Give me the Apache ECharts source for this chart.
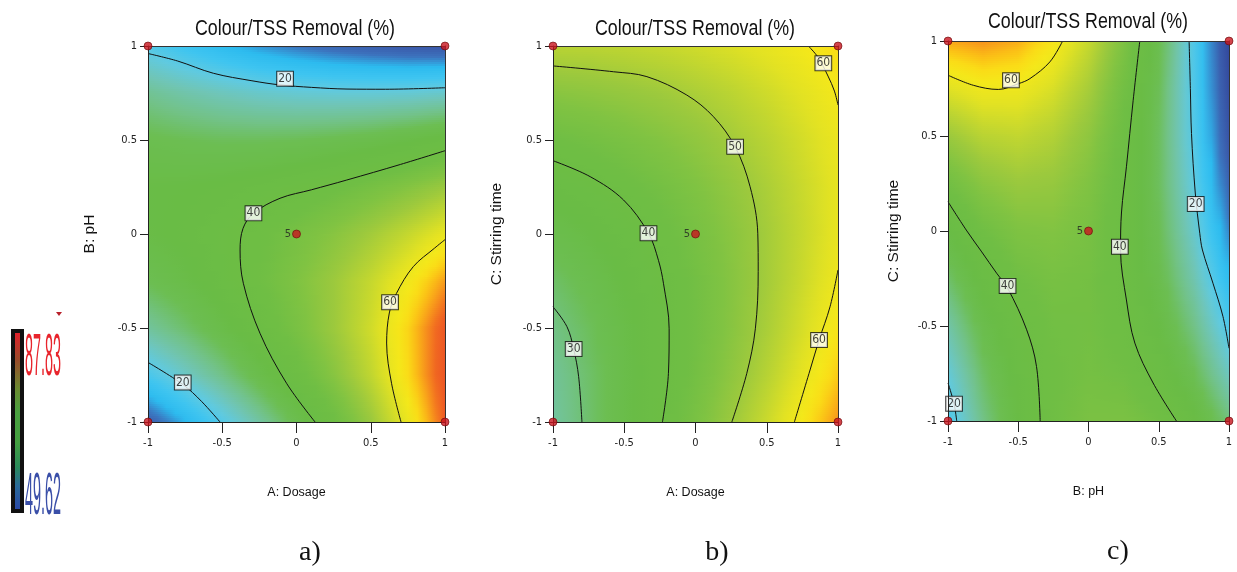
<!DOCTYPE html>
<html><head><meta charset="utf-8">
<script src="https://cdn.jsdelivr.net/npm/echarts@6/dist/echarts.min.js"></script>
<style>html,body{margin:0;padding:0;background:#fff}#c{width:1237px;height:572px}</style>
</head><body><div id="c"></div><script>
// ---------------- DATA ----------------
const gridLevels = [-1, -0.75, -0.5, -0.25, 0, 0.25, 0.5, 0.75, 1];
const tickValues = [-1, -0.5, 0, 0.5, 1];
const tickLabels = ['-1', '-0.5', '0', '0.5', '1'];
const panelTitles = ['Colour/TSS Removal (%)', 'Colour/TSS Removal (%)', 'Colour/TSS Removal (%)'];
const xNames = ['A: Dosage', 'A: Dosage', 'B: pH'];
const yNames = ['B: pH', 'C: Stirring time', 'C: Stirring time'];
const panelTags = ['a)', 'b)', 'c)'];
const colorbarMax = '87.83';
const colorbarMin = '49.62';

// response surfaces, rows from y = -1 (first) to y = 1 (last), columns x = -1 ... 1
const surfaceA = [
  [5.3, 11.7, 18.5, 25.6, 33.2, 41.2, 49.6, 59.5, 71.0],
  [17.2, 22.4, 27.9, 33.9, 40.3, 47.1, 54.2, 63.0, 72.5],
  [26.2, 30.1, 34.5, 39.3, 44.4, 50.0, 56.0, 63.5, 72.0],
  [32.2, 34.9, 38.1, 41.7, 45.7, 50.0, 54.8, 60.5, 67.0],
  [35.3, 36.8, 38.8, 41.2, 44.0, 47.1, 50.7, 54.7, 59.1],
  [35.5, 35.8, 36.6, 37.8, 39.3, 41.3, 43.7, 46.5, 49.7],
  [32.7, 31.9, 31.4, 31.4, 31.8, 32.6, 33.7, 35.3, 37.3],
  [27.0, 25.0, 23.4, 22.1, 21.3, 20.9, 20.9, 21.2, 22.0],
  [18.4, 15.2, 12.4, 9.9, 7.9, 6.3, 5.1, 4.2, 3.8]
];
const surfaceB = [
  [25.9, 30.1, 34.6, 39.4, 44.5, 49.8, 55.4, 61.3, 67.5],
  [26.6, 30.3, 34.3, 38.6, 43.2, 48.0, 53.1, 58.5, 64.2],
  [28.1, 31.3, 34.8, 38.6, 42.7, 47.0, 51.6, 56.5, 61.7],
  [30.4, 33.1, 36.1, 39.4, 42.9, 46.8, 50.9, 55.3, 60.0],
  [33.4, 35.6, 38.1, 40.9, 44.0, 47.3, 50.9, 54.8, 59.0],
  [37.2, 39.0, 41.0, 43.2, 45.8, 48.6, 51.8, 55.2, 58.8],
  [41.8, 43.1, 44.6, 46.4, 48.4, 50.8, 53.4, 56.3, 59.4],
  [47.2, 48.0, 49.0, 50.2, 51.8, 53.6, 55.8, 58.2, 60.8],
  [53.4, 53.6, 54.1, 54.9, 56.0, 57.3, 58.9, 60.8, 63.0]
];
const surfaceC = [
  [17.1, 28.0, 36.3, 41.8, 44.7, 44.8, 42.3, 37.1, 29.1],
  [20.7, 30.5, 37.5, 41.8, 43.5, 42.4, 38.7, 32.2, 23.1],
  [25.1, 33.7, 39.5, 42.6, 43.0, 40.7, 35.7, 28.1, 17.7],
  [30.2, 37.5, 42.1, 44.0, 43.2, 39.7, 33.5, 24.6, 13.0],
  [36.0, 42.1, 45.5, 46.2, 44.1, 39.4, 32.0, 21.9, 9.1],
  [42.6, 47.4, 49.6, 49.0, 45.8, 39.8, 31.2, 19.9, 5.8],
  [49.8, 53.4, 54.4, 52.6, 48.1, 41.0, 31.1, 18.5, 3.3],
  [57.7, 60.1, 59.9, 56.9, 51.2, 42.8, 31.7, 17.9, 1.5],
  [66.4, 67.6, 66.1, 61.8, 54.9, 45.3, 33.0, 18.0, 0.3]
];

// contour lines: [x, y]
const contourA20top = [[-1, 0.96], [-0.8, 0.92], [-0.56, 0.855], [-0.3, 0.815], [-0.11, 0.793], [0.1, 0.78], [0.34, 0.771], [0.6, 0.77], [1, 0.778]];
const contourA40 = [[1, 0.443], [0.7, 0.37], [0.338, 0.287], [0.1, 0.235], [-0.111, 0.19], [-0.29, 0.11], [-0.36, 0.03], [-0.38, -0.085], [-0.358, -0.262], [-0.246, -0.528], [-0.067, -0.794], [0.125, -1]];
const contourA60 = [[1, -0.03], [0.93, -0.075], [0.786, -0.174], [0.673, -0.316], [0.625, -0.42], [0.607, -0.58], [0.64, -0.794], [0.704, -1]];
const contourA20bottom = [[-1, -0.683], [-0.766, -0.8], [-0.64, -0.89], [-0.515, -1]];
const contourB60top = [[0.792, 1], [0.86, 0.94], [0.93, 0.84], [0.975, 0.76], [1, 0.686]];
const contourB50 = [[-1, 0.894], [-0.575, 0.863], [-0.341, 0.837], [-0.061, 0.739], [0.126, 0.624], [0.278, 0.464], [0.383, 0.252], [0.437, 0.004], [0.44, -0.2], [0.42, -0.504], [0.36, -0.741], [0.255, -1]];
const contourB40 = [[-1, 0.39], [-0.739, 0.305], [-0.505, 0.181], [-0.33, 0.004], [-0.26, -0.14], [-0.225, -0.262], [-0.185, -0.504], [-0.19, -0.741], [-0.232, -1]];
const contourB30 = [[-1, -0.387], [-0.902, -0.493], [-0.855, -0.612], [-0.82, -0.759], [-0.797, -1]];
const contourB60bottom = [[1, -0.191], [0.944, -0.387], [0.867, -0.564], [0.804, -0.723], [0.694, -1]];
const contourC60 = [[-1, 0.82], [-0.82, 0.767], [-0.642, 0.745], [-0.5, 0.775], [-0.417, 0.802], [-0.275, 0.89], [-0.184, 1]];
const contourC40left = [[-1, 0.154], [-0.87, 0.005], [-0.76, -0.11], [-0.654, -0.222], [-0.576, -0.3], [-0.44, -0.52], [-0.37, -0.713], [-0.344, -1]];
const contourC40right = [[0.365, 1], [0.318, 0.688], [0.27, 0.338], [0.235, 0.1], [0.228, -0.1], [0.27, -0.363], [0.33, -0.59], [0.46, -0.8], [0.626, -1]];
const contourC20right = [[0.716, 1], [0.725, 0.75], [0.733, 0.513], [0.76, 0.2], [0.792, -0.012], [0.811, -0.1], [0.886, -0.275], [0.957, -0.45], [1, -0.617]];
const contourC20left = [[-1, -0.8], [-0.957, -0.909], [-0.938, -1]];

// contour labels: [x, y, level]
const labelsA = [[-0.077, 0.826, 20], [-0.29, 0.11, 40], [0.63, -0.363, 60], [-0.766, -0.79, 20]];
const labelsB = [[0.897, 0.908, 60], [0.278, 0.464, 50], [-0.33, 0.004, 40], [-0.855, -0.612, 30], [0.867, -0.564, 60]];
const labelsC = [[-0.552, 0.793, 60], [-0.576, -0.289, 40], [0.223, -0.083, 40], [0.763, 0.142, 20], [-0.957, -0.909, 20]];

// design points
const designPoints = [[-1, -1], [-1, 1], [1, 1], [1, -1]];
const centerPoint = [0, 0];
const centerReplicates = '5';

// ---------------- STYLE ----------------
const NARROW = "'Liberation Sans Narrow','DejaVu Sans Condensed',sans-serif";
const SANS = "'Liberation Sans',Arial,sans-serif";
const palette = [
  [0, '#32479b'], [4, '#3a56a7'], [8, '#3c72bd'], [12, '#2cbbef'], [16, '#3fc5f0'], [20, '#60cae0'],
  [24, '#70c5b5'], [28, '#72c288'], [32, '#6cbe52'], [36, '#69bc45'], [42, '#6fbe44'], [46, '#80c342'],
  [50, '#9cc93d'], [54, '#bed531'], [58, '#e2e223'], [61, '#f4e81a'], [63, '#fadc17'], [65, '#fbbf16'],
  [67, '#f89c1b'], [69, '#f3761f'], [71, '#ee5a23'], [80, '#e8402a']
];
function hexRgb(h) { return [parseInt(h.substr(1, 2), 16), parseInt(h.substr(3, 2), 16), parseInt(h.substr(5, 2), 16)]; }
const palRgb = palette.map(p => [p[0], hexRgb(p[1])]);
function colorOf(v) {
  if (v <= palRgb[0][0]) return 'rgb(' + palRgb[0][1].join(',') + ')';
  for (let i = 1; i < palRgb.length; i++) {
    if (v <= palRgb[i][0]) {
      const a = palRgb[i - 1], b = palRgb[i];
      const t = (v - a[0]) / (b[0] - a[0]);
      const c = a[1].map((q, k) => Math.round(q + (b[1][k] - q) * t));
      return 'rgb(' + c.join(',') + ')';
    }
  }
  return 'rgb(' + palRgb[palRgb.length - 1][1].join(',') + ')';
}

function cells(surface) {
  const out = [];
  for (let j = 0; j < gridLevels.length - 1; j++)
    for (let i = 0; i < gridLevels.length - 1; i++)
      out.push([gridLevels[i], gridLevels[j], gridLevels[i + 1], gridLevels[j + 1],
        surface[j][i], surface[j][i + 1], surface[j + 1][i], surface[j + 1][i + 1]]);
  return out;
}
function renderCell(params, api) {
  const a = api.coord([api.value(0), api.value(1)]);
  const b = api.coord([api.value(2), api.value(3)]);
  const v00 = api.value(4), v10 = api.value(5), v01 = api.value(6), v11 = api.value(7);
  const x0 = Math.round(a[0]), x1 = Math.round(b[0]), yb = Math.round(a[1]), yt = Math.round(b[1]);
  const H = yb - yt, children = [];
  const S = Math.max(1, Math.round(H / 2));
  for (let k = 0; k < S; k++) {
    const ya = yb - Math.round(H * k / S), yc = yb - Math.round(H * (k + 1) / S);
    const t = ((yb - ya) + (yb - yc)) / 2 / H;
    const vl = v00 + (v01 - v00) * t, vr = v10 + (v11 - v10) * t;
    const stops = [];
    for (let s = 0; s <= 4; s++) stops.push({ offset: s / 4, color: colorOf(vl + (vr - vl) * s / 4) });
    children.push({
      type: 'rect', silent: true,
      shape: { x: x0, y: yc, width: x1 - x0, height: ya - yc },
      style: { fill: new echarts.graphic.LinearGradient(0, 0, 1, 0, stops) }
    });
  }
  return { type: 'group', children };
}

const grids = [
  { left: 148, top: 46, width: 297, height: 376 },
  { left: 553, top: 46, width: 285, height: 376 },
  { left: 948, top: 41, width: 281, height: 380 }
];
const titleCenters = [[295, 29], [695, 29], [1088, 22]];
const yNameGaps = [50, 48, 46];
const surfaces = [surfaceA, surfaceB, surfaceC];
const contours = [
  [contourA20top, contourA40, contourA60, contourA20bottom],
  [contourB60top, contourB50, contourB40, contourB30, contourB60bottom],
  [contourC60, contourC40left, contourC40right, contourC20right, contourC20left]
];
const labels = [labelsA, labelsB, labelsC];
const tagCenters = [[310, 553], [717, 553], [1118, 552]];

const fmtTick = v => { const i = tickValues.indexOf(v); return i >= 0 ? tickLabels[i] : String(v); };

const option = {
  animation: false,
  backgroundColor: '#fff',
  grid: grids.map(g => Object.assign({ containLabel: false, outerBoundsMode: 'none' }, g)),
  xAxis: [],
  yAxis: [],
  series: [],
  graphic: []
};

for (let k = 0; k < 3; k++) {
  option.xAxis.push({
    gridIndex: k, type: 'value', min: -1, max: 1, interval: 0.5, z: 5,
    name: xNames[k], nameLocation: 'middle', nameGap: 64,
    nameTextStyle: { fontSize: 12.5, fontFamily: SANS, color: '#111' },
    axisLine: { show: true, onZero: false, lineStyle: { color: '#222', width: 1 } },
    axisTick: { show: true, length: 11, lineStyle: { color: '#222' } },
    axisLabel: { margin: 16, fontSize: 11, fontFamily: NARROW, color: '#222', formatter: fmtTick },
    splitLine: { show: false }
  });
  option.yAxis.push({
    gridIndex: k, type: 'value', min: -1, max: 1, interval: 0.5, z: 5,
    name: yNames[k], nameLocation: 'middle', nameGap: yNameGaps[k],
    nameTextStyle: { fontSize: 15.5, fontFamily: SANS, color: '#111' },
    axisLine: { show: true, onZero: false, lineStyle: { color: '#222', width: 1 } },
    axisTick: { show: true, length: 8, lineStyle: { color: '#222' } },
    axisLabel: { margin: 11, fontSize: 11, fontFamily: NARROW, color: '#222', formatter: fmtTick },
    splitLine: { show: false }
  });
}
// frame (top and right edges)
for (let k = 0; k < 3; k++) {
  option.xAxis.push({
    gridIndex: k, type: 'value', min: -1, max: 1, position: 'top', z: 5,
    axisLine: { show: true, onZero: false, lineStyle: { color: '#333', width: 1 } },
    axisTick: { show: false }, axisLabel: { show: false }, splitLine: { show: false }
  });
  option.yAxis.push({
    gridIndex: k, type: 'value', min: -1, max: 1, position: 'right', z: 5,
    axisLine: { show: true, onZero: false, lineStyle: { color: '#333', width: 1 } },
    axisTick: { show: false }, axisLabel: { show: false }, splitLine: { show: false }
  });
}

for (let k = 0; k < 3; k++) {
  option.series.push({
    type: 'custom', xAxisIndex: k, yAxisIndex: k, clip: true, silent: true,
    renderItem: renderCell, encode: { x: [0, 2], y: [1, 3] },
    data: cells(surfaces[k])
  });
  contours[k].forEach(c => option.series.push({
    type: 'line', xAxisIndex: k, yAxisIndex: k, data: c, smooth: 0.35, showSymbol: false, symbol: 'none',
    lineStyle: { color: '#111', width: 1 }, z: 3, silent: true
  }));
  option.series.push({
    type: 'scatter', xAxisIndex: k, yAxisIndex: k, symbolSize: 0, z: 4, silent: true,
    data: labels[k],
    label: {
      show: true, position: 'inside', formatter: p => String(p.value[2]),
      backgroundColor: '#fff', borderColor: '#111', borderWidth: 1, padding: [1, 1, 0, 1],
      fontSize: 12, fontFamily: NARROW, color: '#111', lineHeight: 13
    }
  });
  option.series.push({
    type: 'scatter', xAxisIndex: k, yAxisIndex: k, symbolSize: 8, z: 8, clip: false, silent: true,
    itemStyle: { color: '#c8141e', borderColor: '#6a0a0a', borderWidth: 0.8 },
    data: designPoints.concat([{
      value: centerPoint,
      label: { show: true, position: 'left', distance: 1, formatter: centerReplicates, fontSize: 11, fontFamily: NARROW, color: '#222' }
    }])
  });
}

// panel titles (horizontally condensed like the source figure)
panelTitles.forEach((t, k) => option.graphic.push({
  type: 'text', x: titleCenters[k][0], y: titleCenters[k][1], scaleX: 0.81, z: 10,
  style: { text: t, fontSize: 22, fontFamily: SANS, fill: '#111', align: 'center', verticalAlign: 'middle', textAlign: 'center', textVerticalAlign: 'middle' }
}));

// colour legend bar at the far left
option.graphic.push(
  { type: 'rect', shape: { x: 11, y: 329, width: 13, height: 184 }, style: { fill: '#111' }, z: 10 },
  {
    type: 'rect', shape: { x: 15, y: 333, width: 5, height: 176 }, z: 11,
    style: {
      fill: new echarts.graphic.LinearGradient(0, 0, 0, 1, [
        { offset: 0, color: '#e0202a' }, { offset: 0.15, color: '#9a4a2a' }, { offset: 0.32, color: '#6a8a30' },
        { offset: 0.45, color: '#4aa040' }, { offset: 0.62, color: '#44a040' }, { offset: 0.76, color: '#2a8a5a' },
        { offset: 0.87, color: '#2a6a9a' }, { offset: 1, color: '#2a4aa8' }
      ])
    }
  },
  { type: 'polygon', shape: { points: [[56, 312], [62, 312], [59, 316]] }, style: { fill: '#b8202a' }, z: 10 },
  {
    type: 'text', x: 25, y: 359, scaleX: 0.8, scaleY: 3.3, z: 10,
    style: { text: colorbarMax, fontSize: 18, fontFamily: SANS, fill: '#e8242c', align: 'left', verticalAlign: 'middle', textAlign: 'left', textVerticalAlign: 'middle' }
  },
  {
    type: 'text', x: 25, y: 498, scaleX: 0.8, scaleY: 3.3, z: 10,
    style: { text: colorbarMin, fontSize: 18, fontFamily: SANS, fill: '#3a4fa8', align: 'left', verticalAlign: 'middle', textAlign: 'left', textVerticalAlign: 'middle' }
  }
);
// panel tags a) b) c)
panelTags.forEach((t, k) => option.graphic.push({
  type: 'text', x: tagCenters[k][0], y: tagCenters[k][1], z: 10,
  style: { text: t, fontSize: 28, fontFamily: "'Liberation Serif','Times New Roman',serif", fill: '#111', align: 'center', verticalAlign: 'middle', textAlign: 'center', textVerticalAlign: 'middle' }
}));

const chart = echarts.init(document.getElementById('c'), null, { renderer: 'canvas' });
chart.setOption(option);
</script></body></html>
